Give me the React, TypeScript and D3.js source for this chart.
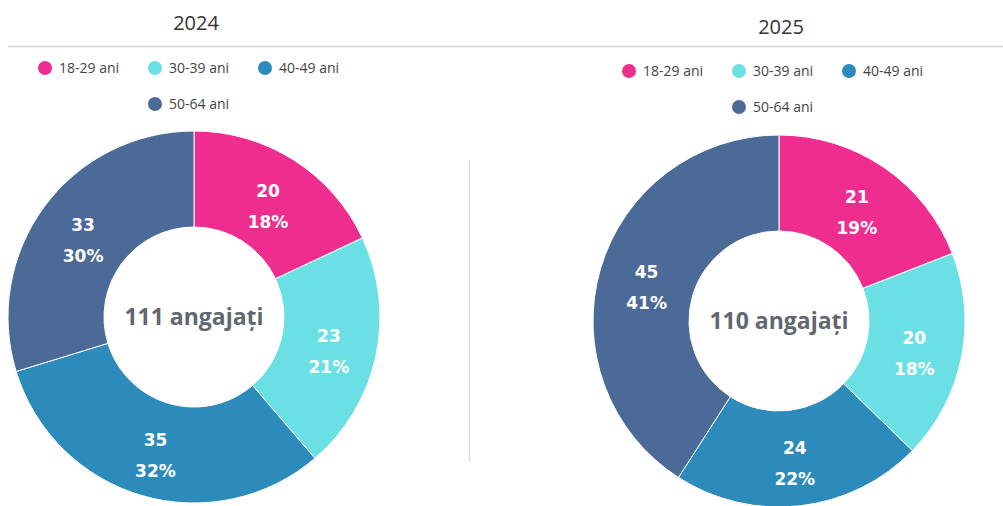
import React from 'react';
import * as d3 from 'd3';

const categories = ['18-29 ani', '30-39 ani', '40-49 ani', '50-64 ani'];
const colors = ['#EE2D8F', '#6BE0E4', '#2C8BBA', '#4C6A98'];
const years = ['2024', '2025'];
const values2024 = [20, 23, 35, 33];
const values2025 = [21, 20, 24, 45];

const W = 1003;
const H = 506;

type DonutProps = {
  title: string;
  values: number[];
  cx: number;
  cy: number;
  titleY: number;
  legendX: number;
  legendY: number;
};

const Donut = ({ title, values, cx, cy, titleY, legendX, legendY }: DonutProps) => {
  const outer = 186;
  const inner = 90;
  const total = d3.sum(values);
  const pie = d3.pie<number>().sort(null).value(d => d);
  const arc = d3.arc<d3.PieArcDatum<number>>().innerRadius(inner).outerRadius(outer);
  const arcs = pie(values);
  const legendStep = 110;
  const rowGap = 36;

  return (
    <g>
      <text x={cx + 2} y={titleY} textAnchor="middle" fontFamily="Open Sans" fontSize={20} fill="#333">
        {title}
      </text>
      {categories.map((c, i) => {
        const col = i % 3;
        const row = Math.floor(i / 3);
        const x = row === 0 ? legendX + col * legendStep : legendX + legendStep;
        const y = legendY + row * rowGap;
        return (
          <g key={c} transform={`translate(${x},${y})`}>
            <circle r={7} fill={colors[i]} />
            <text x={14} y={5} fontFamily="Open Sans" fontSize={14} fill="#444">
              {c}
            </text>
          </g>
        );
      })}
      <g transform={`translate(${cx},${cy})`}>
        {arcs.map((a, i) => (
          <path key={i} d={arc(a) || ''} fill={colors[i]} stroke="#fff" strokeWidth={1} />
        ))}
        {arcs.map((a, i) => {
          const [x, y] = arc.centroid(a);
          const pct = Math.round((a.data / total) * 100);
          return (
            <text key={'l' + i} x={x} y={y} textAnchor="middle" fontFamily="DejaVu Sans" fontWeight="bold" fontSize={17} fill="#fff">
              <tspan x={x} dy={-4}>{a.data}</tspan>
              <tspan x={x} dy={31}>{pct}%</tspan>
            </text>
          );
        })}
        <text x={0} y={8} textAnchor="middle" fontFamily="Open Sans" fontWeight="bold" fontSize={23} fill="#5F6770">
          {total} angajați
        </text>
      </g>
    </g>
  );
};

export default function App() {
  return (
    <svg width={W} height={H} style={{ position: 'absolute', left: 0, top: 0, background: '#fff' }}>
      <line x1={8} x2={W} y1={46.5} y2={46.5} stroke="#d4d4d4" strokeWidth={1.5} />
      <line x1={469.5} x2={469.5} y1={160} y2={462} stroke="#ddd" strokeWidth={1.5} />
      <Donut title={years[0]} values={values2024} cx={194} cy={317} titleY={30} legendX={45} legendY={68} />
      <Donut title={years[1]} values={values2025} cx={779} cy={321} titleY={34} legendX={629} legendY={71} />
    </svg>
  );
}
